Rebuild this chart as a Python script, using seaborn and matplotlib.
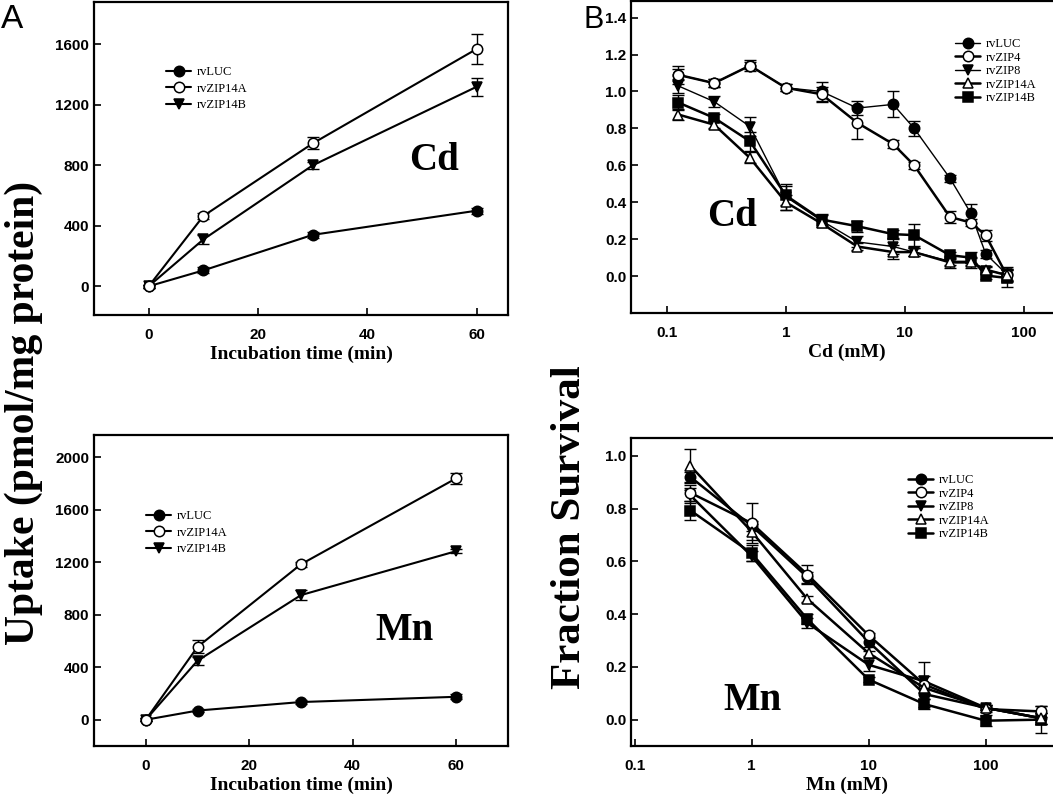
import matplotlib
matplotlib.use('Agg')
import matplotlib.pyplot as plt
from matplotlib.ticker import FixedLocator, FixedFormatter, NullLocator
import seaborn as sns

# ---- panel A: uptake vs incubation time ----
time_min = [0, 10, 30, 60]

cd_luc = [0, 105, 340, 500]
cd_luc_err = [10, 20, 20, 20]
cd_14a = [0, 465, 945, 1570]
cd_14a_err = [10, 20, 40, 100]
cd_14b = [0, 310, 800, 1320]
cd_14b_err = [10, 30, 25, 60]

mn_luc = [0, 70, 135, 175]
mn_luc_err = [10, 10, 15, 20]
mn_14a = [0, 555, 1185, 1840]
mn_14a_err = [10, 50, 20, 40]
mn_14b = [0, 450, 950, 1285]
mn_14b_err = [10, 30, 40, 15]

# ---- panel B: fraction survival vs concentration ----
cd_conc = [0.125, 0.25, 0.5, 1, 2, 4, 8, 12, 24, 36, 48, 72]
surv_cd_luc = [1.09, 1.045, 1.14, 1.02, 1.00, 0.91, 0.93, 0.80, 0.53, 0.34, 0.12, 0.01]
surv_cd_luc_err = [0.03, 0.02, 0.02, 0.02, 0.05, 0.04, 0.07, 0.04, 0.02, 0.05, 0.02, 0.04]
surv_cd_zip4 = [1.09, 1.045, 1.14, 1.02, 0.985, 0.83, 0.715, 0.60, 0.32, 0.29, 0.22, 0.005]
surv_cd_zip4_err = [0.05, 0.02, 0.03, 0.02, 0.04, 0.09, 0.02, 0.02, 0.03, 0.02, 0.03, 0.03]
surv_cd_zip8 = [1.03, 0.945, 0.81, 0.43, 0.30, 0.185, 0.16, 0.13, 0.08, 0.08, 0.03, 0.01]
surv_cd_zip8_err = [0.04, 0.03, 0.05, 0.07, 0.03, 0.03, 0.04, 0.02, 0.02, 0.02, 0.02, 0.03]
surv_cd_zip14a = [0.875, 0.82, 0.64, 0.40, 0.285, 0.16, 0.13, 0.13, 0.074, 0.074, 0.035, 0.005]
surv_cd_zip14a_err = [0.03, 0.02, 0.03, 0.04, 0.02, 0.02, 0.04, 0.02, 0.03, 0.03, 0.02, 0.03]
surv_cd_zip14b = [0.94, 0.857, 0.73, 0.437, 0.306, 0.27, 0.227, 0.222, 0.113, 0.10, 0.003, -0.01]
surv_cd_zip14b_err = [0.04, 0.02, 0.05, 0.05, 0.03, 0.03, 0.02, 0.06, 0.02, 0.03, 0.02, 0.05]

mn_conc = [0.3, 1, 3, 10, 30, 100, 300]
surv_mn_luc = [0.92, 0.735, 0.54, 0.295, 0.097, 0.045, 0.005]
surv_mn_luc_err = [0.02, 0.02, 0.02, 0.02, 0.02, 0.01, 0.02]
surv_mn_zip4 = [0.86, 0.745, 0.55, 0.32, 0.133, 0.04, 0.031]
surv_mn_zip4_err = [0.03, 0.075, 0.035, 0.01, 0.085, 0.01, 0.02]
surv_mn_zip8 = [0.85, 0.62, 0.366, 0.208, 0.145, 0.045, 0.005]
surv_mn_zip8_err = [0.03, 0.02, 0.02, 0.025, 0.02, 0.01, 0.02]
surv_mn_zip14a = [0.962, 0.713, 0.457, 0.252, 0.12, 0.045, 0.005]
surv_mn_zip14a_err = [0.063, 0.03, 0.01, 0.01, 0.02, 0.01, 0.02]
surv_mn_zip14b = [0.793, 0.631, 0.381, 0.152, 0.059, -0.004, 0.0]
surv_mn_zip14b_err = [0.035, 0.03, 0.02, 0.01, 0.02, 0.02, 0.05]

sns.set_style('ticks')
plt.rcParams['font.family'] = ['Liberation Sans', 'DejaVu Sans']
plt.rcParams['axes.linewidth'] = 1.6
for key in ['text.color', 'axes.labelcolor', 'xtick.color', 'ytick.color', 'axes.edgecolor']:
    plt.rcParams[key] = 'black'

W, H = 1053, 801
fig = plt.figure(figsize=(W / 100, H / 100), dpi=100)


def px_axes(l, t, r, b):
    return fig.add_axes([l / W, 1 - b / H, (r - l) / W, (b - t) / H])


def draw(ax, x, series):
    for name, y, e, mk, fc, lw in series:
        sns.lineplot(x=x, y=y, ax=ax, color='black', lw=lw, marker=mk,
                     markerfacecolor=fc, markeredgecolor='black',
                     markersize=7.5, markeredgewidth=1.1, label=name,
                     errorbar=None, sort=False, zorder=3 if fc == 'white' else 2)
        ax.errorbar(x, y, yerr=e, fmt='none', ecolor='black', elinewidth=1,
                    capsize=4, capthick=1, zorder=1)


def style_axes(ax):
    ax.tick_params(direction='in', length=5, width=1.2, labelsize=11)
    ax.tick_params(axis='x', pad=9)
    for lab in ax.get_xticklabels() + ax.get_yticklabels():
        lab.set_fontweight('bold')
    for s in ax.spines.values():
        s.set_visible(True)
        s.set_linewidth(1.6)


def legend(ax, x, y, spacing):
    ax.legend(loc='upper left', bbox_to_anchor=(x / W, 1 - y / H),
              bbox_transform=fig.transFigure, frameon=False, borderpad=0,
              prop=dict(family='Liberation Serif', size=9),
              handlelength=2.0, handletextpad=0.4, labelspacing=spacing)


serif_bold = dict(family='Liberation Serif', weight='bold')

# A top: Cd uptake
ax1 = px_axes(94, 2, 508, 315)
draw(ax1, time_min, [
    ('rvLUC', cd_luc, cd_luc_err, 'o', 'black', 1.5),
    ('rvZIP14A', cd_14a, cd_14a_err, 'o', 'white', 1.5),
    ('rvZIP14B', cd_14b, cd_14b_err, 'v', 'black', 1.5),
])
ax1.set_xlim(-10, 65.7)
ax1.set_ylim(-190, 1880)
ax1.set_xticks([0, 20, 40, 60])
ax1.set_yticks([0, 400, 800, 1200, 1600])
ax1.set_xlabel('Incubation time (min)', fontsize=14, labelpad=3, **serif_bold)
ax1.set_ylabel('')
style_axes(ax1)
legend(ax1, 160, 60, 0.35)

# A bottom: Mn uptake
ax2 = px_axes(94, 435, 508, 746)
draw(ax2, time_min, [
    ('rvLUC', mn_luc, mn_luc_err, 'o', 'black', 1.5),
    ('rvZIP14A', mn_14a, mn_14a_err, 'o', 'white', 1.5),
    ('rvZIP14B', mn_14b, mn_14b_err, 'v', 'black', 1.5),
])
ax2.set_xlim(-10, 70)
ax2.set_ylim(-200, 2170)
ax2.set_xticks([0, 20, 40, 60])
ax2.set_yticks([0, 400, 800, 1200, 1600, 2000])
ax2.set_xlabel('Incubation time (min)', fontsize=14, labelpad=3, **serif_bold)
ax2.set_ylabel('')
style_axes(ax2)
legend(ax2, 140, 504, 0.35)

# B top: Cd survival
ax3 = px_axes(631, 1, 1062, 313)
ax3.set_xscale('log')
draw(ax3, cd_conc, [
    ('rvLUC', surv_cd_luc, surv_cd_luc_err, 'o', 'black', 1.0),
    ('rvZIP4', surv_cd_zip4, surv_cd_zip4_err, 'o', 'white', 1.8),
    ('rvZIP8', surv_cd_zip8, surv_cd_zip8_err, 'v', 'black', 1.0),
    ('rvZIP14A', surv_cd_zip14a, surv_cd_zip14a_err, '^', 'white', 1.8),
    ('rvZIP14B', surv_cd_zip14b, surv_cd_zip14b_err, 's', 'black', 1.8),
])
ax3.set_xlim(0.05, 210)
ax3.set_ylim(-0.2, 1.49)
ax3.set_yticks([0.0, 0.2, 0.4, 0.6, 0.8, 1.0, 1.2, 1.4])
ax3.set_yticklabels(['0.0', '0.2', '0.4', '0.6', '0.8', '1.0', '1.2', '1.4'])
ax3.xaxis.set_major_locator(FixedLocator([0.1, 1, 10, 100]))
ax3.xaxis.set_major_formatter(FixedFormatter(['0.1', '1', '10', '100']))
ax3.xaxis.set_minor_locator(NullLocator())
ax3.set_xlabel('Cd (mM)', fontsize=14, labelpad=3, **serif_bold)
ax3.set_ylabel('')
style_axes(ax3)
legend(ax3, 949, 32, 0.12)

# B bottom: Mn survival
ax4 = px_axes(631, 438, 1062, 746)
ax4.set_xscale('log')
draw(ax4, mn_conc, [
    ('rvLUC', surv_mn_luc, surv_mn_luc_err, 'o', 'black', 1.8),
    ('rvZIP4', surv_mn_zip4, surv_mn_zip4_err, 'o', 'white', 1.8),
    ('rvZIP8', surv_mn_zip8, surv_mn_zip8_err, 'v', 'black', 1.8),
    ('rvZIP14A', surv_mn_zip14a, surv_mn_zip14a_err, '^', 'white', 1.8),
    ('rvZIP14B', surv_mn_zip14b, surv_mn_zip14b_err, 's', 'black', 1.8),
])
ax4.set_xlim(0.093, 450)
ax4.set_ylim(-0.1, 1.068)
ax4.set_yticks([0.0, 0.2, 0.4, 0.6, 0.8, 1.0])
ax4.set_yticklabels(['0.0', '0.2', '0.4', '0.6', '0.8', '1.0'])
ax4.xaxis.set_major_locator(FixedLocator([0.1, 1, 10, 100]))
ax4.xaxis.set_major_formatter(FixedFormatter(['0.1', '1', '10', '100']))
ax4.xaxis.set_minor_locator(NullLocator())
ax4.set_xlabel('Mn (mM)', fontsize=14, labelpad=3, **serif_bold)
ax4.set_ylabel('')
style_axes(ax4)
legend(ax4, 902, 468, 0.12)

# metal labels inside panels
fig.text(434 / W, 1 - 161 / H, 'Cd', ha='center', va='center', fontsize=28, **serif_bold)
fig.text(405 / W, 1 - 631 / H, 'Mn', ha='center', va='center', fontsize=28, **serif_bold)
fig.text(732 / W, 1 - 217 / H, 'Cd', ha='center', va='center', fontsize=28, **serif_bold)
fig.text(752 / W, 1 - 700 / H, 'Mn', ha='center', va='center', fontsize=28, **serif_bold)

# shared y labels and panel letters
fig.text(24 / W, 1 - 413 / H, 'Uptake (pmol/mg protein)', rotation=90,
         ha='center', va='center', fontsize=30, **serif_bold)
fig.text(570 / W, 1 - 527 / H, 'Fraction Survival', rotation=90,
         ha='center', va='center', fontsize=31, **serif_bold)
fig.text(1 / W, 1 - 20 / H, 'A', ha='left', va='center', fontsize=24)
fig.text(584 / W, 1 - 20 / H, 'B', ha='left', va='center', fontsize=22)

fig.savefig('out.png', dpi=100)
